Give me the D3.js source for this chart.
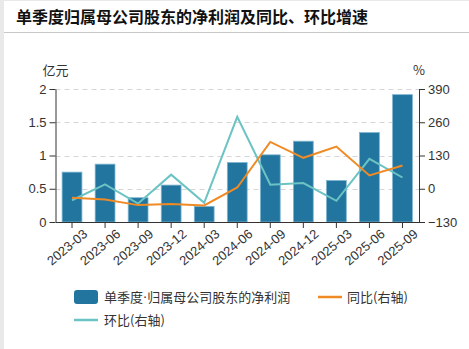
<!DOCTYPE html>
<html>
<head>
<meta charset="utf-8">
<script src="https://cdn.jsdelivr.net/npm/d3@7"></script>
<style>
  body { margin: 0; background: #e9e9e9; font-family: "Noto Sans CJK SC", "Noto Sans", sans-serif; }
  .card { position: absolute; left: 4px; top: 1px; width: 465px; height: 348px; background: #fff; }
  .axis text { font-size: 13px; fill: #333; }
  .axis path, .axis line { stroke: #333; }
</style>
</head>
<body>
<div class="card"></div>
<script>
const quarters = ['2023-03','2023-06','2023-09','2023-12','2024-03','2024-06','2024-09','2024-12','2025-03','2025-06','2025-09']
const profit = [0.75, 0.87, 0.365, 0.555, 0.235, 0.895, 1.01, 1.215, 0.625, 1.345, 1.915]
const yoy = [-35, -42, -64, -60, -65, 5, 183, 121, 165, 52, 91]
const qoq = [-45, 17, -58, 55, -55, 281, 16, 22, -47, 117, 44]
const leftTicks = [0, 0.5, 1, 1.5, 2]
const rightTicks = [-130, 0, 130, 260, 390]

const W = 469, H = 349
const margin = {top: 89, bottom: 127, left: 55.5, right: 50}

const svg = d3.select('body').append('svg')
  .attr('width', W)
  .attr('height', H)
  .style('position', 'absolute')
  .style('left', 0)
  .style('top', 0)

// title bar
svg.append('text')
  .attr('x', 16)
  .attr('y', 23)
  .attr('font-size', 16)
  .attr('font-weight', 'bold')
  .attr('fill', '#111')
  .text('单季度归属母公司股东的净利润及同比、环比增速')

svg.append('line')
  .attr('x1', 4).attr('x2', W)
  .attr('y1', 32.5).attr('y2', 32.5)
  .attr('stroke', '#c8c8c8')
  .attr('stroke-width', 1)

const innerW = W - margin.left - margin.right
const innerH = H - margin.top - margin.bottom

const chart = svg.append('g')
  .attr('transform', `translate(${margin.left}, ${margin.top})`)

const x = d3.scaleBand()
  .domain(quarters)
  .range([0, innerW])
  .paddingInner(0.4)
  .paddingOuter(0.2)

const yL = d3.scaleLinear().domain([0, 2]).range([innerH, 0])
const yR = d3.scaleLinear().domain([-130, 390]).range([innerH, 0])

// grid
chart.append('g').selectAll('line')
  .data(leftTicks.filter(d => d > 0))
  .enter()
  .append('line')
  .attr('x1', 0).attr('x2', innerW)
  .attr('y1', d => Math.round(yL(d)) + 0.5)
  .attr('y2', d => Math.round(yL(d)) + 0.5)
  .attr('stroke', '#d6d6d6')
  .attr('stroke-dasharray', '5,4')

// bars
chart.selectAll('rect.bar')
  .data(profit)
  .enter()
  .append('rect')
  .attr('class', 'bar')
  .attr('x', (d, i) => x(quarters[i]))
  .attr('y', d => yL(d))
  .attr('width', x.bandwidth())
  .attr('height', d => innerH - yL(d))
  .attr('fill', '#21759f')
  .attr('stroke', '#7fb6d2')
  .attr('stroke-width', 0.8)

const cx = d => x(d) + x.bandwidth() / 2

const lineYoy = d3.line()
  .x((d, i) => cx(quarters[i]))
  .y(d => yR(d))

chart.append('path')
  .datum(qoq)
  .attr('d', lineYoy)
  .attr('fill', 'none')
  .attr('stroke', '#6cc3c3')
  .attr('stroke-width', 2)

chart.append('path')
  .datum(yoy)
  .attr('d', lineYoy)
  .attr('fill', 'none')
  .attr('stroke', '#f08a24')
  .attr('stroke-width', 2)

// axes
chart.append('g')
  .attr('class', 'axis')
  .call(d3.axisLeft(yL).tickValues(leftTicks).tickFormat(d3.format('')).tickSizeOuter(0))

chart.append('g')
  .attr('class', 'axis')
  .attr('transform', `translate(${innerW}, 0)`)
  .call(d3.axisRight(yR).tickValues(rightTicks).tickSizeOuter(0))

const xAxis = chart.append('g')
  .attr('class', 'axis')
  .attr('transform', `translate(0, ${innerH})`)
  .call(d3.axisBottom(x).tickSizeOuter(0))

xAxis.selectAll('text')
  .attr('text-anchor', 'end')
  .attr('dx', '0.3em')
  .attr('dy', '0.9em')
  .attr('transform', 'rotate(-40)')

chart.selectAll('.axis .domain').attr('stroke', '#333')

// unit labels
svg.append('text')
  .attr('x', margin.left)
  .attr('y', 75)
  .attr('text-anchor', 'middle')
  .attr('font-size', 13)
  .attr('fill', '#333')
  .text('亿元')

svg.append('text')
  .attr('x', margin.left + innerW)
  .attr('y', 75)
  .attr('text-anchor', 'middle')
  .attr('font-size', 13)
  .attr('fill', '#333')
  .text('%')

// legend
const legend = svg.append('g').attr('font-size', 13).attr('fill', '#333')

legend.append('rect')
  .attr('x', 74).attr('y', 290)
  .attr('width', 24).attr('height', 14)
  .attr('rx', 3)
  .attr('fill', '#21759f')
const t1 = legend.append('text').attr('x', 104).attr('y', 302)
t1.append('tspan').text('单季度')
t1.append('tspan').attr('font-family', '"DejaVu Sans", sans-serif').text('·')
t1.append('tspan').text('归属母公司股东的净利润')

legend.append('line')
  .attr('x1', 318).attr('x2', 342).attr('y1', 297).attr('y2', 297)
  .attr('stroke', '#f08a24').attr('stroke-width', 2.5)
legend.append('text').attr('x', 347).attr('y', 302).text('同比(右轴)')

legend.append('line')
  .attr('x1', 74).attr('x2', 98).attr('y1', 320).attr('y2', 320)
  .attr('stroke', '#6cc3c3').attr('stroke-width', 2.5)
legend.append('text').attr('x', 104).attr('y', 325).text('环比(右轴)')
</script>
</body>
</html>
